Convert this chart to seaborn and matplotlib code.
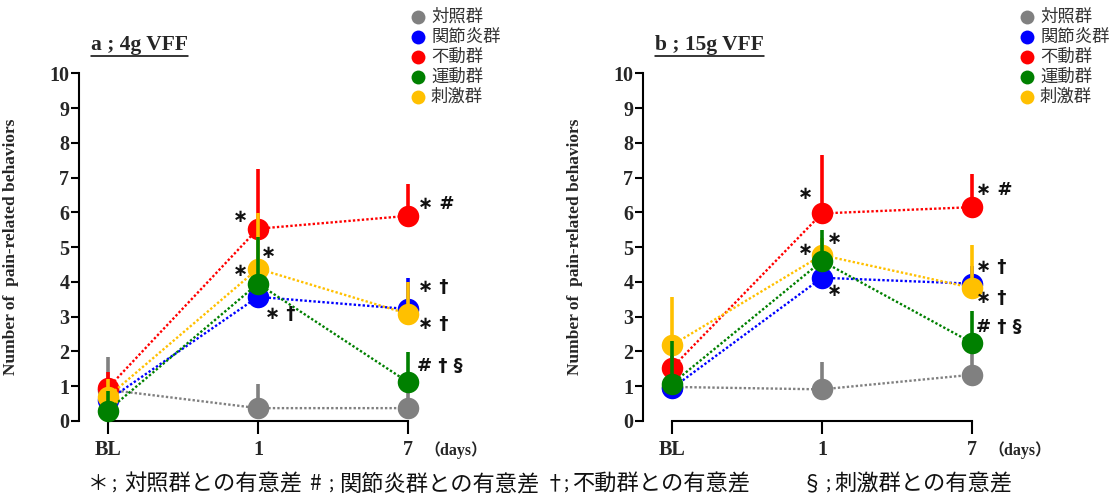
import numpy as np
import pandas as pd
import seaborn as sns
import matplotlib
matplotlib.use("Agg")
import matplotlib.pyplot as plt
from matplotlib.lines import Line2D

# ---------------- data ----------------
days = ["BL", "1", "7"]
groups = ["対照群", "関節炎群", "不動群", "運動群", "刺激群"]
colors = ["#808080", "#0000FF", "#FF0000", "#008000", "#FFC000"]

# panel a : 4g VFF  (mean, upward SD)
a_control = [0.90, 0.37, 0.37]
a_control_sd = [0.95, 0.70, 0.50]
a_arthritis = [0.60, 3.57, 3.22]
a_arthritis_sd = [0.30, 0.50, 0.88]
a_immob = [0.95, 5.53, 5.90]
a_immob_sd = [0.45, 1.72, 0.92]
a_exercise = [0.30, 3.95, 1.12]
a_exercise_sd = [0.55, 1.35, 0.86]
a_stim = [0.70, 4.38, 3.08]
a_stim_sd = [0.50, 1.60, 0.92]

# panel b : 15g VFF
b_control = [0.98, 0.91, 1.33]
b_control_sd = [0.30, 0.78, 0.60]
b_arthritis = [0.94, 4.12, 3.95]
b_arthritis_sd = [0.50, 0.60, 0.50]
b_immob = [1.53, 5.97, 6.15]
b_immob_sd = [0.50, 1.68, 0.96]
b_exercise = [1.07, 4.60, 2.25]
b_exercise_sd = [1.23, 0.90, 0.90]
b_stim = [2.18, 4.77, 3.83]
b_stim_sd = [1.38, 0.50, 1.23]

# significance marks (text, x position index, y value)
a_notes = [("∗", 0.88, 5.87, "center"), ("∗", 1.07, 4.84, "center"),
           ("∗", 0.88, 4.32, "center"), ("∗ †", 1.05, 3.07, "left"),
           ("∗ #", 2.07, 6.24, "left"), ("∗ †", 2.07, 3.86, "left"),
           ("∗ †", 2.07, 2.80, "left"), ("# † §", 2.06, 1.57, "left")]
b_notes = [("∗", 0.89, 6.54, "center"), ("∗", 1.08, 5.24, "center"),
           ("∗", 0.89, 4.93, "center"), ("∗", 1.08, 3.73, "center"),
           ("∗ #", 2.03, 6.65, "left"), ("∗ †", 2.03, 4.42, "left"),
           ("∗ †", 2.03, 3.54, "left"), ("# † §", 2.03, 2.70, "left")]

titles = ["a ; 4g VFF", "b ; 15g VFF"]
ylabel = "Number of  pain-related behaviors"
footnote_syms = ["＊", ";", "#", ";", "†", ";", "§", ";"]
footnote_texts = ["対照群との有意差", "関節炎群との有意差", "不動群との有意差", "刺激群との有意差"]

# ---------------- style ----------------
sns.set_style("ticks")
plt.rcParams["font.family"] = ["Liberation Serif", "Noto Sans CJK JP", "DejaVu Sans"]
CJK = ["Noto Sans CJK JP", "DejaVu Sans"]
SERIF = ["Liberation Serif", "Noto Sans CJK JP"]
MARK = ["DejaVu Sans"]

W, H = 1118, 497
fig = plt.figure(figsize=(W / 100, H / 100), dpi=100)

def fx(px):
    return px / W

def fy(py):
    return 1 - py / H

ax_w = 2.443 * 150 / W
ax_b = fy(421)
ax_h = (421 - 73.3) / H
axes = [fig.add_axes([fx(79), ax_b, ax_w, ax_h]),
        fig.add_axes([fx(643), ax_b, ax_w, ax_h])]

panels = [
    ([a_control, a_arthritis, a_immob, a_exercise, a_stim],
     [a_control_sd, a_arthritis_sd, a_immob_sd, a_exercise_sd, a_stim_sd], a_notes),
    ([b_control, b_arthritis, b_immob, b_exercise, b_stim],
     [b_control_sd, b_arthritis_sd, b_immob_sd, b_exercise_sd, b_stim_sd], b_notes),
]
# drawing order: control, arthritis, immob, stim, exercise (exercise on top)
order = [0, 1, 2, 4, 3]

for ax, (means, sds, notes) in zip(axes, panels):
    for k, i in enumerate(order):
        df = pd.DataFrame({"pos": np.arange(len(days)), "val": means[i], "sd": sds[i]})
        ax.vlines(df["pos"], df["val"], df["val"] + df["sd"], color=colors[i],
                  lw=2.6, zorder=2 + 2 * k, clip_on=False)
        sns.lineplot(data=df, x="pos", y="val", ax=ax, color=colors[i],
                     linestyle=(0, (1, 0.9)), lw=1.7, marker="o", markersize=15.5,
                     markeredgewidth=0, zorder=3 + 2 * k, clip_on=False,
                     errorbar=None, sort=False)
    for txt, x, y, ha in notes:
        ax.text(x, y, txt, ha=ha, va="center", fontsize=13, fontweight="bold",
                family=MARK, color="#111111", zorder=20)
    ax.set_xlim(-0.193, 2.25)
    ax.set_ylim(0, 10)
    ax.set_xticks(range(len(days)))
    ax.set_xticklabels(days)
    ax.set_yticks(range(0, 11))
    ax.set_xlabel("")
    ax.set_ylabel(ylabel, fontsize=12.5, fontweight="bold", family=SERIF)
    ax.yaxis.set_label_coords(-60 / (ax_w * W), 0.5)
    for s in ["top", "right"]:
        ax.spines[s].set_visible(False)
    ax.spines["left"].set_bounds(0, 10)
    ax.spines["bottom"].set_bounds(0, 2)
    ax.spines["left"].set_linewidth(1.5)
    ax.spines["bottom"].set_linewidth(1.5)
    ax.spines["left"].set_color("black")
    ax.spines["bottom"].set_color("black")
    ax.tick_params(axis="y", direction="out", length=5.5, width=1.5, pad=1.5,
                   labelsize=14.5, color="black")
    ax.tick_params(axis="x", direction="out", length=9.5, width=1.5, pad=4.5,
                   labelsize=14.5, color="black")
    for lab in ax.get_xticklabels() + ax.get_yticklabels():
        lab.set_fontweight("bold")
        lab.set_family(SERIF)
    ax.text(2.11, -0.083, "（days）", transform=ax.get_xaxis_transform(),
            ha="left", va="center", fontsize=11.5, fontweight="bold", family=SERIF)
    ax.set_facecolor("none")

# titles with underline
title_x = [91, 655]
fig.canvas.draw()
renderer = fig.canvas.get_renderer()
for tx, t in zip(title_x, titles):
    tt = fig.text(fx(tx), fy(45), t, ha="left", va="center", fontsize=15.5,
                  fontweight="bold", family=SERIF)
    bb = tt.get_window_extent(renderer=renderer)
    fig.add_artist(Line2D([bb.x0 / W, bb.x1 / W], [fy(55.5), fy(55.5)],
                          transform=fig.transFigure, color="black", lw=1.1))

# legends
legend_x = [418, 1027]
for lx in legend_x:
    for j, (g, c) in enumerate(zip(groups, colors)):
        yy = 17 + 20 * j
        fig.add_artist(Line2D([fx(lx)], [fy(yy)], transform=fig.transFigure,
                              marker="o", markersize=10, color=c, markeredgewidth=0,
                              linestyle="none"))
        fig.text(fx(lx + 13), fy(yy), g, ha="left", va="center", fontsize=12.5,
                 family=CJK, color="#333333")

# footnote
sym_x = [98, 114, 315, 331, 555, 566, 812, 828]
txt_x = [124, 339, 572, 834]
for s, x in zip(footnote_syms, sym_x):
    fig.text(fx(x), fy(484), s, ha="center", va="center",
             fontsize=13 if s == ";" else 15, family=CJK, color="#111111")
for t, x in zip(footnote_texts, txt_x):
    fig.text(fx(x), fy(484), t, ha="left", va="center", fontsize=16,
             family=CJK, color="#111111")

fig.savefig("out.png", dpi=100)
